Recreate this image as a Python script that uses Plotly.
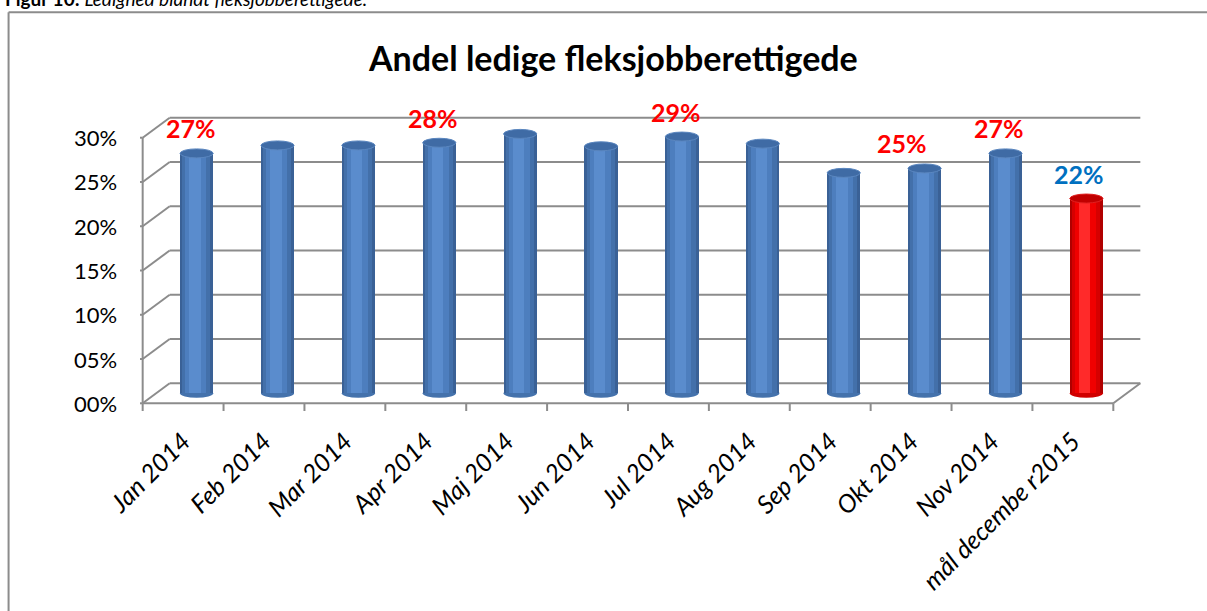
import plotly.graph_objects as go

# ---------------- data ----------------
categories = ["Jan 2014", "Feb 2014", "Mar 2014", "Apr 2014", "Maj 2014", "Jun 2014",
              "Jul 2014", "Aug 2014", "Sep 2014", "Okt 2014", "Nov 2014", "mål decembe r2015"]
values = [27.1, 28.0, 28.0, 28.3, 29.3, 27.9, 29.0, 28.2, 24.9, 25.4, 27.1, 22.0]
is_goal = [False, False, False, False, False, False, False, False, False, False, False, True]
show_label = [True, False, False, True, False, False, True, False, False, True, True, True]
y_ticks = [0, 5, 10, 15, 20, 25, 30]
y_tick_labels = ["00%", "05%", "10%", "15%", "20%", "25%", "30%"]
title_text = "Andel ledige fleksjobberettigede"
caption_text = "<b>Figur 10:</b> <i>Ledighed blandt fleksjobberettigede.</i>"

# ---------------- geometry ----------------
W, H = 1207, 611
X_RANGE = [-0.7, 11.7]
Y_RANGE = [-2.0, 32.0]
PX_CAT = 80.83       # pixels per category
PX_PCT = 8.85        # pixels per percent
X0_PX = 156.5        # pixel of x = -0.5 (mid depth)
Y0_PX = 393.0        # pixel of y = 0 (mid depth)
left = X0_PX - (-0.5 - X_RANGE[0]) * PX_CAT
plot_w = (X_RANGE[1] - X_RANGE[0]) * PX_CAT
right = W - left - plot_w
top = Y0_PX - Y_RANGE[1] * PX_PCT
bottom = H - (Y0_PX - Y_RANGE[0] * PX_PCT)
plot_h = (Y_RANGE[1] - Y_RANGE[0]) * PX_PCT

DX = 13.5 / PX_CAT   # half depth offset (x, data units)
DY = 10.0 / PX_PCT   # half depth offset (y, data units)
n = len(categories)
xs = list(range(n))

def px_to_paper_x(p):
    return (p - left) / plot_w

def px_to_paper_y(p):
    return (H - bottom - p) / plot_h

GRID = "#8C8C8C"
FONT = "Lato"

fig = go.Figure()

# cylinder-like bars built from layered bars
blue_layers = [(0.41, 0.0, "#3A6196"), (0.35, -0.005, "#4370AA"),
               (0.26, -0.012, "#4D7EBE"), (0.14, -0.02, "#5A8CCD")]
red_layers = ["#B00000", "#D60000", "#F00000", "#FF2A2A"]
for li, (w, c, col) in enumerate(blue_layers):
    colors = [red_layers[li] if g else col for g in is_goal]
    fig.add_trace(go.Bar(x=xs, y=values, width=w, offset=c - w / 2,
                         marker=dict(color=colors, line=dict(width=0)),
                         hoverinfo="skip" if li else "y", showlegend=False))

shapes = []
line_style = dict(color=GRID, width=2)
# back wall gridlines + left side diagonals + front tick marks
for v in y_ticks:
    shapes.append(dict(type="line", xref="x", yref="y", layer="below",
                       x0=-0.5 + DX, x1=n - 0.5 + DX, y0=v + DY, y1=v + DY, line=line_style))
    shapes.append(dict(type="line", xref="x", yref="y", layer="below",
                       x0=-0.5 - DX, x1=-0.5 + DX, y0=v - DY, y1=v + DY, line=line_style))
    shapes.append(dict(type="line", xref="x", yref="y", layer="below",
                       xsizemode="pixel", xanchor=-0.5 - DX, x0=-8, x1=0,
                       y0=v - DY, y1=v - DY, line=line_style))
# front vertical axis
shapes.append(dict(type="line", xref="x", yref="y", layer="below",
                   x0=-0.5 - DX, x1=-0.5 - DX, y0=-DY, y1=y_ticks[-1] - DY, line=line_style))
# floor front line and right diagonal
shapes.append(dict(type="line", xref="x", yref="y", layer="below",
                   x0=-0.5 - DX, x1=n - 0.5 - DX, y0=-DY, y1=-DY, line=line_style))
shapes.append(dict(type="line", xref="x", yref="y", layer="below",
                   x0=n - 0.5 - DX, x1=n - 0.5 + DX, y0=-DY, y1=DY, line=line_style))
# x tick marks
for k in range(n + 1):
    shapes.append(dict(type="line", xref="x", yref="y", layer="below",
                       ysizemode="pixel", yanchor=-DY, y0=-9, y1=0,
                       x0=k - 0.5 - DX, x1=k - 0.5 - DX, line=line_style))

# bottom and top ellipses of cylinders
EH = 4.5 / PX_PCT
BW = blue_layers[0][0]
for i, v in enumerate(values):
    base_col = "#4472AC" if not is_goal[i] else "#D00000"
    top_col = "#3F6BA5" if not is_goal[i] else "#C00000"
    shapes.append(dict(type="circle", xref="x", yref="y", layer="below",
                       x0=i - BW / 2, x1=i + BW / 2, y0=-EH, y1=EH,
                       fillcolor=base_col, line=dict(width=0)))
    shapes.append(dict(type="circle", xref="x", yref="y", layer="above",
                       x0=i - BW / 2, x1=i + BW / 2, y0=v - EH, y1=v + EH,
                       fillcolor=top_col, line=dict(color="#5A86BF" if not is_goal[i] else "#E02020", width=1)))

# outer border (top and left)
shapes.append(dict(type="line", xref="paper", yref="paper",
                   x0=px_to_paper_x(9), x1=px_to_paper_x(W + 5),
                   y0=px_to_paper_y(12), y1=px_to_paper_y(12), line=dict(color="#8C8C8C", width=2)))
shapes.append(dict(type="line", xref="paper", yref="paper",
                   x0=px_to_paper_x(9), x1=px_to_paper_x(9),
                   y0=px_to_paper_y(12), y1=px_to_paper_y(H + 5), line=dict(color="#8C8C8C", width=2)))

annotations = []
# y tick labels at the front plane
for v, t in zip(y_ticks, y_tick_labels):
    annotations.append(dict(x=-0.5 - DX, y=v - DY, xref="x", yref="y", text=t,
                            showarrow=False, xanchor="right", yanchor="middle", xshift=-24,
                            font=dict(family=FONT, size=22, color="#000000")))
# data labels
label_dx = [-6, -6, -6, -6, -6, -6, -6, -6, -6, -23, -6, -7]
for i, v in enumerate(values):
    if show_label[i]:
        annotations.append(dict(x=i, y=v, xref="x", yref="y", text=f"<b>{round(v)}%</b>",
                                showarrow=False, xanchor="center", yanchor="middle",
                                xshift=label_dx[i], yshift=25,
                                font=dict(family=FONT, size=25,
                                          color="#0070C0" if is_goal[i] else "#FF0000")))
# title
annotations.append(dict(x=px_to_paper_x(613), y=px_to_paper_y(57), xref="paper", yref="paper",
                        text=f"<b>{title_text}</b>", showarrow=False, xanchor="center",
                        yanchor="middle", font=dict(family=FONT, size=34, color="#000000")))
# caption at very top (cut by the page edge, as in the source)
annotations.append(dict(x=px_to_paper_x(3), y=px_to_paper_y(12), xref="paper", yref="paper",
                        text=caption_text, showarrow=False, xanchor="left", yanchor="bottom",
                        font=dict(family=FONT, size=19, color="#000000")))

fig.update_layout(
    width=W, height=H,
    margin=dict(l=left, r=right, t=top, b=bottom, pad=0),
    paper_bgcolor="white", plot_bgcolor="rgba(0,0,0,0)",
    barmode="overlay", bargap=0,
    showlegend=False,
    xaxis=dict(range=X_RANGE, tickmode="array", tickvals=[x - DX for x in xs], ticktext=categories,
               tickangle=-45, showgrid=False, zeroline=False, showline=False,
               ticks="", ticklen=0, ticklabelstandoff=10,
               tickfont=dict(family=FONT, size=25, color="#000000", style="italic")),
    yaxis=dict(range=Y_RANGE, visible=False, showgrid=False, zeroline=False),
    shapes=shapes, annotations=annotations,
)

fig.write_html("out.html", config={"displayModeBar": False},
               post_script="document.body.style.margin='0';")
